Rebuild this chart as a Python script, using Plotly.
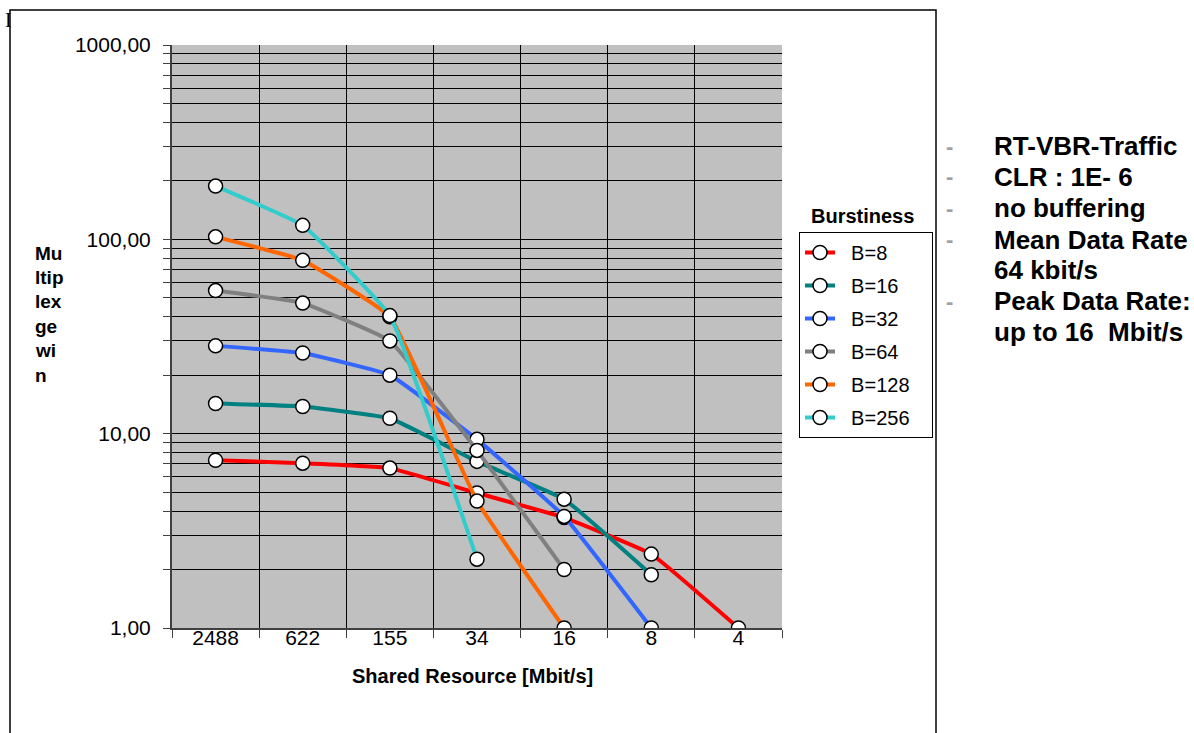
import plotly.graph_objects as go

categories = ["2488", "622", "155", "34", "16", "8", "4"]
series_names = ["B=8", "B=16", "B=32", "B=64", "B=128", "B=256"]
b8 = [7.3, 7.05, 6.65, 4.95, 3.7, 2.4, 1.0]
b16 = [14.3, 13.8, 12.0, 7.2, 4.6, 1.88, None]
b32 = [28.3, 26.0, 20.0, 9.35, 3.75, 1.0, None]
b64 = [54.5, 47.0, 30.0, 8.2, 2.0, None, None]
b128 = [103.0, 78.0, 40.0, 4.5, 1.0, None, None]
b256 = [188.0, 118.0, 40.5, 2.26, None, None, None]
series_values = [b8, b16, b32, b64, b128, b256]
colors = ["#FF0000", "#008080", "#3366FF", "#808080", "#FF6600", "#33CCCC"]

y_tickvals = [m * 10 ** e for e in range(3) for m in range(1, 10)] + [1000]
y_ticktext = ["1,00" if v == 1 else "10,00" if v == 10 else "100,00" if v == 100
              else "1000,00" if v == 1000 else "" for v in y_tickvals]

right_lines = [("-", "RT-VBR-Traffic"), ("-", "CLR : 1E- 6"), ("-", "no buffering"),
               ("-", "Mean Data Rate"), ("", "64 kbit/s"), ("-", "Peak Data Rate:"),
               ("", "up to 16  Mbit/s")]
ytitle_lines = ["Mu", "ltip", "lex", "ge", "wi", "n"]

FONT = "Liberation Sans, Arial, sans-serif"
W, H = 1194, 733
# plot area in page pixels
L, R, T, B = 172, 782, 45, 628


def px(x):
    return (x - L) / (R - L)


def py(y):
    return (B - y) / (B - T)


fig = go.Figure()
for i, (name, vals, col) in enumerate(zip(series_names, series_values, colors)):
    xs = [c for c, v in zip(categories, vals) if v is not None]
    ys = [v for v in vals if v is not None]
    fig.add_trace(go.Scatter(
        x=xs, y=ys, name="\u00a0\u00a0" + name + "\u00a0\u00a0\u00a0", mode="lines+markers",
        line=dict(color=col, width=4, shape="spline", smoothing=0.3),
        marker=dict(size=14, color="white", line=dict(color="black", width=1.5)),
        legendgroup=name,
    ))

annotations = []
for i, t in enumerate(ytitle_lines):
    annotations.append(dict(text=t, x=px(33), y=py(253 + i * 24.4), xref="paper", yref="paper",
                            xanchor="left", yanchor="middle", showarrow=False,
                            font=dict(family=FONT, size=19, color="black", weight="bold")))
annotations.append(dict(text="Shared Resource [Mbit/s]", x=px(472), y=py(676), xref="paper",
                        yref="paper", xanchor="center", yanchor="middle", showarrow=False,
                        font=dict(family=FONT, size=20, color="black", weight="bold")))
annotations.append(dict(text="Burstiness", x=px(863), y=py(216), xref="paper", yref="paper",
                        xanchor="center", yanchor="middle", showarrow=False,
                        font=dict(family=FONT, size=20, color="black", weight="bold")))
annotations.append(dict(text="I", x=px(3), y=py(20), xref="paper", yref="paper",
                        xanchor="left", yanchor="middle", showarrow=False,
                        font=dict(family="Liberation Serif, Times New Roman, serif", size=20,
                                  color="black")))
right_y = [146, 177, 208, 240, 270, 301, 332]
for (d, t), yy in zip(right_lines, right_y):
    if d:
        annotations.append(dict(text=d, x=px(949), y=py(yy), xref="paper", yref="paper",
                                xanchor="center", yanchor="middle", showarrow=False,
                                font=dict(family=FONT, size=22, color="#A0A0A0", weight="bold")))
    annotations.append(dict(text=t, x=px(992), y=py(yy), xref="paper", yref="paper",
                            xanchor="left", yanchor="middle", showarrow=False,
                            font=dict(family=FONT, size=26, color="black", weight="bold")))

fig.update_layout(
    width=W, height=H,
    margin=dict(l=L, r=W - R, t=T, b=H - B, pad=0),
    paper_bgcolor="white", plot_bgcolor="#C0C0C0",
    font=dict(family=FONT, size=20, color="black"),
    showlegend=True,
    legend=dict(x=px(799), y=py(232), xanchor="left", yanchor="top",
                bgcolor="white", bordercolor="black", borderwidth=1,
                font=dict(family=FONT, size=20, color="black"),
                traceorder="grouped", tracegroupgap=4, itemsizing="trace"),
    annotations=annotations,
    shapes=[dict(type="rect", xref="paper", yref="paper", x0=px(10), x1=px(936),
                 y0=py(760), y1=py(10), line=dict(color="black", width=1.5),
                 fillcolor="rgba(0,0,0,0)", layer="below")],
    xaxis=dict(type="category", categoryorder="array", categoryarray=categories,
               tickson="boundaries", ticks="outside", ticklen=8, tickcolor="#404040",
               showgrid=True, gridcolor="black", gridwidth=1,
               showline=True, linecolor="#404040", linewidth=2, mirror=False,
               tickfont=dict(family=FONT, size=21, color="black"), zeroline=False,
               ticklabelstandoff=-10, range=[-0.5, 6.5]),
    yaxis=dict(type="log", range=[0, 3], tickvals=y_tickvals, ticktext=y_ticktext,
               ticks="outside", ticklen=7, tickcolor="#404040",
               showgrid=True, gridcolor="black", gridwidth=1,
               showline=True, linecolor="#404040", linewidth=2,
               tickfont=dict(family=FONT, size=21, color="black"), ticklabelstandoff=8,
               zeroline=False),
)

fig.write_html("out.html", config={"displayModeBar": False},
               post_script="document.body.style.margin='0';document.body.style.overflow='hidden';")
